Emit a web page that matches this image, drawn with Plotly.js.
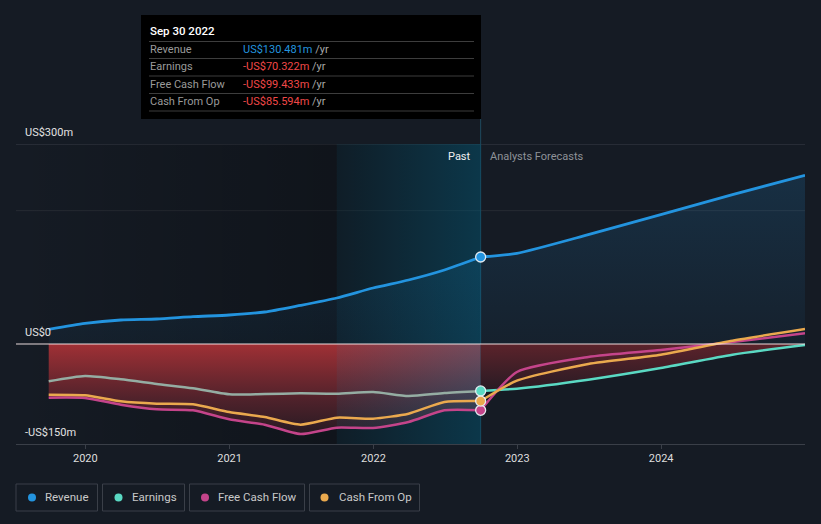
<!DOCTYPE html>
<html>
<head>
<meta charset="utf-8">
<script src="https://cdn.plot.ly/plotly-3.0.1.min.js"></script>
<style>
html,body{margin:0;padding:0;background:#151b24;}
#chart{width:821px;height:524px;}
</style>
</head>
<body>
<div id="chart"></div>
<script>
// ---------------- DATA ----------------
const seriesNames = ['Revenue', 'Earnings', 'Free Cash Flow', 'Cash From Op'];

const pastDates = ['2019-09-30','2019-12-31','2020-03-31','2020-06-30','2020-09-30','2020-12-31',
                   '2021-03-31','2021-06-30','2021-09-30','2021-12-31','2022-03-31','2022-06-30','2022-09-30'];
const revenuePast  = [22, 31, 36, 37.5, 41, 43.5, 48, 58, 69, 84, 96, 111, 130.481];
const earningsPast = [-56, -48, -53, -60, -66.5, -75.5, -75, -74, -74.5, -72, -78, -73.5, -70.322];
const fcfPast      = [-80.5, -81, -91, -98, -99.5, -113, -121, -135, -125.5, -126, -117, -99.5, -99.433];
const cfoPast      = [-76, -77, -86, -89.5, -90.5, -102, -109.5, -121, -110.5, -112, -104.5, -87, -85.594];

const forecastDates    = ['2022-09-30','2022-12-31','2023-06-30','2023-12-31','2024-06-30','2024-12-31'];
const revenueForecast  = [130.481, 136, 164, 194, 224, 253];
const earningsForecast = [-70.322, -67, -53.5, -36, -16, -1.5];
const fcfForecast      = [-99.433, -42, -19.5, -9, 3, 16];
const cfoForecast      = [-85.594, -55, -30, -16, 5, 22.5];

const xTickVals = ['2020-01-01','2021-01-01','2022-01-01','2023-01-01','2024-01-01'];
const xTickText = ['2020','2021','2022','2023','2024'];
const yTickVals = [300, 0, -150];
const yTickText = ['US$300m', 'US$0', '-US$150m'];
const yGridVals = [300, 200];

// ---------------- STYLE ----------------
const BG = '#151b24';
const C_REV = '#2394df';
const C_EARN = '#5ad9c3';
const C_EARN_PAST = '#95ada3';
const C_FCF = '#c4448a';
const C_CFO = '#eaa94e';
const C_NEG = '#f04848';
const xRange = ['2019-07-09', '2024-12-31'];
const yRange = [-150, 300];
const FONT = 'Roboto, "Open Sans", sans-serif';

const L = 16, R = 16, T = 144, B = 80, W = 821, H = 524;
const PW = W - L - R, PH = H - T - B;
const px = v => (v - L) / PW;          // pixel x -> paper
const py = v => (H - B - v) / PH;      // pixel y -> paper

const lastPast = pastDates[pastDates.length - 1];
const bandStart = pastDates[pastDates.length - 5];  // one year before last reported
const SPL = {shape: 'spline', smoothing: 0.6};

function rectTrace(x0, x1, colorscale) {
  return {
    x: [x0, x0, x1, x1, x0], y: [yRange[0], yRange[1], yRange[1], yRange[0], yRange[0]],
    mode: 'lines', line: {width: 0}, fill: 'toself',
    fillgradient: {type: 'horizontal', colorscale: colorscale},
    hoverinfo: 'skip', showlegend: false
  };
}

const traces = [];
// darkening of the past part of the background
traces.push(rectTrace(xRange[0], bandStart, [[0, 'rgba(0,0,0,0)'], [1, 'rgba(0,0,0,0.26)']]));
traces.push(rectTrace(bandStart, lastPast, [[0, 'rgba(0,0,0,0.26)'], [1, 'rgba(0,0,0,0.26)']]));

// revenue area
const revX = pastDates.concat(forecastDates.slice(1));
const revY = revenuePast.concat(revenueForecast.slice(1));
traces.push({
  x: revX, y: revY, mode: 'lines', line: Object.assign({width: 0}, SPL),
  fill: 'tozeroy',
  fillgradient: {type: 'vertical', start: 0, stop: 260,
    colorscale: [[0, 'rgba(35,148,223,0.05)'], [1, 'rgba(35,148,223,0.17)']]},
  hoverinfo: 'skip'
});
// negative area (past) under the lowest series
traces.push({
  x: pastDates, y: fcfPast, mode: 'lines', line: Object.assign({width: 0}, SPL),
  fill: 'tozeroy',
  fillgradient: {type: 'vertical', start: -150, stop: 0,
    colorscale: [[0, 'rgb(28,24,32)'], [0.45, 'rgb(80,34,43)'], [1, 'rgb(160,48,53)']]},
  hoverinfo: 'skip'
});
// negative area (forecast)
traces.push({
  x: forecastDates, y: earningsForecast, mode: 'lines', line: Object.assign({width: 0}, SPL),
  fill: 'tozeroy',
  fillgradient: {type: 'vertical', start: -75, stop: 0,
    colorscale: [[0, 'rgb(36,26,35)'], [1, 'rgb(92,35,43)']]},
  hoverinfo: 'skip'
});
// last-year highlight band
traces.push(rectTrace(bandStart, lastPast, [[0, 'rgba(0,150,200,0.07)'], [1, 'rgba(0,150,200,0.27)']]));

function line(x, y, color, w) {
  return {x: x, y: y, mode: 'lines', line: Object.assign({color: color, width: w || 2.5}, SPL), hoverinfo: 'skip'};
}
traces.push(line(pastDates, earningsPast, C_EARN_PAST));
traces.push(line(forecastDates, earningsForecast, C_EARN));
traces.push(line(pastDates, fcfPast, C_FCF));
traces.push(line(forecastDates, fcfForecast, C_FCF));
traces.push(line(pastDates, cfoPast, C_CFO));
traces.push(line(forecastDates, cfoForecast, C_CFO));
traces.push(line(pastDates, revenuePast, C_REV, 2.8));
traces.push(line(forecastDates, revenueForecast, C_REV, 2.8));

const lastVals = [revenuePast, earningsPast, fcfPast, cfoPast].map(a => a[a.length - 1]);
const colors = [C_REV, C_EARN, C_FCF, C_CFO];
traces.push({
  x: lastVals.map(() => lastPast), y: lastVals, mode: 'markers',
  marker: {size: 10, color: colors, line: {color: 'rgba(235,240,245,0.95)', width: 1.3}},
  hoverinfo: 'skip'
});

// ---------------- SHAPES & ANNOTATIONS ----------------
const shapes = [];
const annotations = [];

yGridVals.forEach((v, i) => shapes.push({
  type: 'line', xref: 'paper', yref: 'y', x0: 0, x1: 1, y0: v, y1: v,
  line: {color: i === 0 ? '#3a3f48' : '#262b33', width: 1}, layer: 'below'
}));
shapes.push({type: 'line', xref: 'paper', yref: 'y', x0: 0, x1: 1, y0: 0, y1: 0,
  line: {color: 'rgba(255,240,240,0.9)', width: 1}, layer: 'above'});
shapes.push({type: 'line', xref: 'x', yref: 'paper', x0: lastPast, x1: lastPast, y0: 0, y1: py(119),
  line: {color: '#1e4a5e', width: 1}, layer: 'below'});

yTickVals.forEach((v, i) => annotations.push({
  xref: 'paper', yref: 'y', x: 0, y: v, xanchor: 'left', yanchor: 'bottom',
  xshift: 7, yshift: 3, showarrow: false, text: yTickText[i],
  font: {family: FONT, size: 11, color: '#e2e2e2'}
}));

annotations.push({xref: 'x', yref: 'paper', x: lastPast, y: py(156), xanchor: 'right', yanchor: 'middle',
  xshift: -8, showarrow: false, text: 'Past', font: {family: FONT, size: 11, color: '#f0f0f0'}});
annotations.push({xref: 'x', yref: 'paper', x: lastPast, y: py(156), xanchor: 'left', yanchor: 'middle',
  xshift: 7, showarrow: false, text: 'Analysts Forecasts', font: {family: FONT, size: 11, color: '#8e9298'}});

// tooltip box
shapes.push({type: 'rect', xref: 'paper', yref: 'paper', x0: px(141), x1: px(481), y0: py(119), y1: py(15),
  fillcolor: '#000000', line: {width: 0}, layer: 'above'});
[41.5, 58.5, 76, 93.5, 111].forEach(yy => shapes.push({
  type: 'line', xref: 'paper', yref: 'paper', x0: px(149), x1: px(474), y0: py(yy), y1: py(yy),
  line: {color: '#3d3d3d', width: 1}, layer: 'above'
}));
const months = ['Jan','Feb','Mar','Apr','May','Jun','Jul','Aug','Sep','Oct','Nov','Dec'];
const dp = lastPast.split('-');
const dateLabel = months[+dp[1] - 1] + ' ' + (+dp[2]) + ' ' + dp[0];
annotations.push({xref: 'paper', yref: 'paper', x: px(148), y: py(31), xanchor: 'left', yanchor: 'middle',
  showarrow: false, text: dateLabel, font: {family: FONT, size: 11.5, color: '#ffffff', weight: 500}});
const rowY = [49.5, 66.5, 84, 101.5];
function fmt(v) { return (v < 0 ? '-' : '') + 'US$' + Math.abs(v).toFixed(3) + 'm'; }
seriesNames.forEach((n, i) => {
  annotations.push({xref: 'paper', yref: 'paper', x: px(148), y: py(rowY[i]), xanchor: 'left', yanchor: 'middle',
    showarrow: false, text: n, font: {family: FONT, size: 11, color: '#9a9a9a'}});
  const v = lastVals[i];
  annotations.push({xref: 'paper', yref: 'paper', x: px(241), y: py(rowY[i]), xanchor: 'left', yanchor: 'middle',
    showarrow: false,
    text: '<span style="color:' + (v < 0 ? C_NEG : C_REV) + '">' + fmt(v) + '</span> /yr',
    font: {family: FONT, size: 11, color: '#a8a8a8'}});
});

// custom legend
const legBox = [[16, 97.5], [102.5, 184.5], [189.5, 304.5], [309.5, 419.5]];
const legDot = [32, 118.5, 205, 324.5];
const legTxt = [43, 129.5, 216, 336.5];
seriesNames.forEach((n, i) => {
  shapes.push({type: 'rect', xref: 'paper', yref: 'paper', x0: px(legBox[i][0]), x1: px(legBox[i][1]),
    y0: py(511), y1: py(484), line: {color: '#3a3f48', width: 1}, fillcolor: 'rgba(0,0,0,0)'});
  shapes.push({type: 'circle', xref: 'paper', yref: 'paper', xsizemode: 'pixel', ysizemode: 'pixel',
    xanchor: px(legDot[i]), yanchor: py(497.5), x0: -4, x1: 4, y0: -4, y1: 4,
    fillcolor: colors[i], line: {width: 0}});
  annotations.push({xref: 'paper', yref: 'paper', x: px(legTxt[i]), y: py(497.5), xanchor: 'left', yanchor: 'middle',
    showarrow: false, text: n, font: {family: FONT, size: 11.5, color: '#c9c9c9'}});
});

const layout = {
  width: W, height: H,
  paper_bgcolor: BG, plot_bgcolor: BG,
  margin: {l: L, r: R, t: T, b: B, pad: 0},
  showlegend: false,
  font: {family: FONT, size: 11, color: '#d6d6d6'},
  xaxis: {type: 'date', range: xRange, tickvals: xTickVals, ticktext: xTickText,
    showgrid: false, zeroline: false, showline: true, linecolor: '#3a3f48', linewidth: 1,
    ticks: 'outside', ticklen: 4, tickcolor: '#3a3f48', tickwidth: 1,
    tickfont: {family: FONT, size: 11, color: '#dedede'}, fixedrange: true},
  yaxis: {range: yRange, showgrid: false, zeroline: false, showticklabels: false, ticks: '',
    showline: false, fixedrange: true},
  shapes: shapes,
  annotations: annotations,
  hovermode: false
};

Plotly.newPlot('chart', traces, layout, {displayModeBar: false, staticPlot: true});
</script>
</body>
</html>
